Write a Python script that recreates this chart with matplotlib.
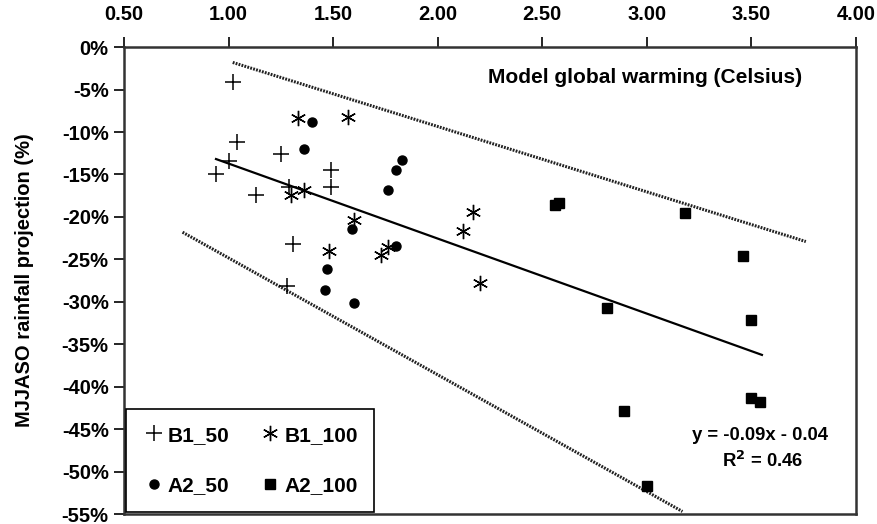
import matplotlib.pyplot as plt
from matplotlib.ticker import FuncFormatter
import numpy as np

plt.rcParams['font.family'] = ['Liberation Sans', 'DejaVu Sans']
plt.rcParams['font.weight'] = 'bold'

# warming (C) and rainfall change (%)
b1_50_x = [1.02, 1.04, 1.00, 0.94, 1.13, 1.25, 1.29, 1.49, 1.49, 1.31, 1.28]
b1_50_y = [-4.1, -11.2, -13.4, -14.9, -17.4, -12.6, -16.5, -14.5, -16.5, -23.2, -28.1]

b1_100_x = [1.33, 1.57, 1.36, 1.30, 1.60, 1.48, 1.76, 1.73, 2.17, 2.12, 2.20]
b1_100_y = [-8.3, -8.2, -16.8, -17.4, -20.4, -24.0, -23.5, -24.5, -19.4, -21.6, -27.8]

a2_50_x = [1.40, 1.36, 1.83, 1.80, 1.76, 1.59, 1.80, 1.47, 1.46, 1.60]
a2_50_y = [-8.8, -12.0, -13.3, -14.5, -16.8, -21.4, -23.4, -26.1, -28.6, -30.1]

a2_100_x = [2.56, 2.58, 3.18, 3.46, 2.81, 3.50, 3.50, 3.54, 2.89, 3.00]
a2_100_y = [-18.6, -18.3, -19.5, -24.6, -30.7, -32.2, -41.3, -41.8, -42.9, -51.7]

# trend line and hand drawn bounds
trend_slope, trend_icpt = -8.84, -4.87
trend_x = [0.94, 3.55]
upper_x, upper_y = [1.02, 3.76], [-1.8, -22.9]
lower_x, lower_y = [0.78, 3.17], [-21.8, -54.7]

fig, ax = plt.subplots(figsize=(8.78, 5.24), dpi=100)
fig.subplots_adjust(left=0.1412, right=0.975, top=0.910, bottom=0.019)

tx = np.array(trend_x)
ax.plot(tx, trend_slope * tx + trend_icpt, color='black', lw=1.6, zorder=2)
ax.plot(upper_x, upper_y, color='#222222', lw=2.2, ls=(0, (0.6, 0.4)), zorder=2)
ax.plot(lower_x, lower_y, color='#222222', lw=2.2, ls=(0, (0.6, 0.4)), zorder=2)

h1, = ax.plot(b1_50_x, b1_50_y, ls='none', marker='+', ms=11, mew=1.1, color='black', label='B1_50', zorder=3)
h2, = ax.plot(b1_100_x, b1_100_y, ls='none', marker=(6, 2, 0), ms=11, mew=1.0, color='black', label='B1_100', zorder=3)
h3, = ax.plot(a2_50_x, a2_50_y, ls='none', marker='o', ms=6.5, color='black', label='A2_50', zorder=3)
h4, = ax.plot(a2_100_x, a2_100_y, ls='none', marker='s', ms=6.5, color='black', label='A2_100', zorder=3)

ax.set_xlim(0.5, 4.0)
ax.set_ylim(-55, 0)
ax.set_xticks(np.arange(0.5, 4.01, 0.5))
ax.set_yticks(np.arange(-55, 0.1, 5))
ax.xaxis.set_major_formatter(FuncFormatter(lambda v, p: '%.2f' % v))
ax.yaxis.set_major_formatter(FuncFormatter(lambda v, p: '%d%%' % round(v)))
ax.xaxis.tick_top()
ax.tick_params(axis='both', direction='out', length=7, width=1.2, labelsize=14.5)
ax.tick_params(axis='x', pad=10)
ax.tick_params(axis='y', pad=4)
for s in ax.spines.values():
    s.set_linewidth(1.8)
    s.set_color('#333333')

ax.set_ylabel('MJJASO rainfall projection (%)', fontsize=14.5, fontweight='bold', labelpad=20)

ax.text(0.712, 0.934, 'Model global warming (Celsius)', transform=ax.transAxes,
        fontsize=15, fontweight='bold', ha='center', va='center')
ax.text(0.869, 0.169, 'y = -0.09x - 0.04', transform=ax.transAxes,
        fontsize=13.3, fontweight='bold', ha='center', va='center')
ax.text(0.872, 0.114, 'R$^2$ = 0.46', transform=ax.transAxes,
        fontsize=13.3, fontweight='bold', ha='center', va='center')

# column-wise fill: B1_50 / A2_50 first column, B1_100 / A2_100 second
leg = ax.legend([h1, h3, h2, h4], ['B1_50', 'A2_50', 'B1_100', 'A2_100'],
                loc='lower left', ncol=2, fontsize=15, frameon=True, fancybox=False,
                edgecolor='black', borderaxespad=0.12, handletextpad=0.18, columnspacing=1.45,
                labelspacing=1.5, borderpad=0.8, handlelength=1.0)
leg.get_frame().set_linewidth(1.2)
leg.get_frame().set_alpha(1)

fig.savefig('out.png', dpi=100)
